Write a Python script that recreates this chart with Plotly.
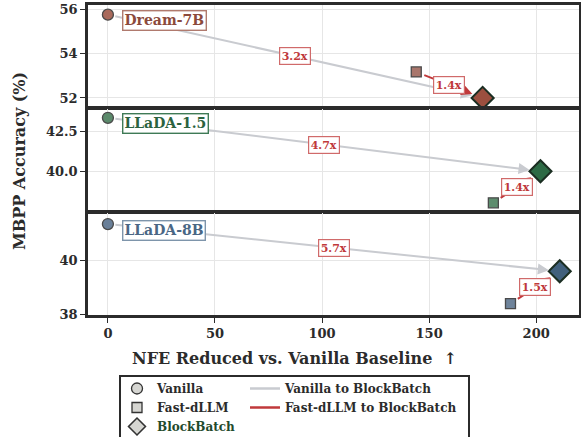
import plotly.graph_objects as go
from plotly.subplots import make_subplots

models = ["Dream-7B", "LLaDA-1.5", "LLaDA-8B"]
vanilla_nfe = [0, 0, 0]
vanilla_acc = [55.78, 43.38, 41.35]
fast_nfe = [144, 180, 188]
fast_acc = [53.18, 38.0, 38.4]
bb_nfe = [175, 202, 211]
bb_acc = [52.0, 40.0, 39.6]
speed_vs_vanilla = ["3.2x", "4.7x", "5.7x"]
speed_vs_fast = ["1.4x", "1.4x", "1.5x"]

x_ticks = [0, 50, 100, 150, 200]
y_ticks = [[52, 54, 56], [40.0, 42.5], [38, 40]]
y_ranges = [[51.6, 56.22], [37.5, 43.92], [37.98, 41.75]]
y_fmt = ["d", ".1f", "d"]

vanilla_col = ["#a96a5c", "#5b8a6b", "#6a8099"]
fast_col = ["#a9766c", "#5e8d6e", "#6f849b"]
bb_col = ["#9c4f3f", "#2d6a45", "#41607c"]
label_txt = ["#8c4a3c", "#2b6340", "#4a6785"]
label_border = ["#b07a6e", "#3f7a56", "#7e95ab"]

FONT = "DejaVu Serif"
DARK = "#2b2b2b"
GRAY_ARROW = "#c9cbd0"
RED = "#c0393b"

fig = make_subplots(rows=3, cols=1, shared_xaxes=True, vertical_spacing=0)

annotations = []
for i in range(3):
    r = i + 1
    xs = "x" if r == 1 else f"x{r}"
    ys = "y" if r == 1 else f"y{r}"
    fig.add_trace(go.Scatter(x=[vanilla_nfe[i]], y=[vanilla_acc[i]], mode="markers",
                             marker=dict(symbol="circle", size=11, color=vanilla_col[i],
                                         line=dict(color="#4a4a4a", width=1.3)),
                             showlegend=False, hoverinfo="skip"), row=r, col=1)
    fig.add_trace(go.Scatter(x=[fast_nfe[i]], y=[fast_acc[i]], mode="markers",
                             marker=dict(symbol="square", size=10, color=fast_col[i],
                                         line=dict(color="#4a4a4a", width=1.3)),
                             showlegend=False, hoverinfo="skip"), row=r, col=1)
    fig.add_trace(go.Scatter(x=[bb_nfe[i]], y=[bb_acc[i]], mode="markers",
                             marker=dict(symbol="diamond", size=17, color=bb_col[i],
                                         line=dict(color="#1b2e22", width=2)),
                             showlegend=False, hoverinfo="skip"), row=r, col=1)
    annotations.append(dict(x=bb_nfe[i], y=bb_acc[i], ax=vanilla_nfe[i], ay=vanilla_acc[i],
                            xref=xs, yref=ys, axref=xs, ayref=ys, text="", showarrow=True,
                            arrowhead=2, arrowsize=1.1, arrowwidth=2, arrowcolor=GRAY_ARROW,
                            standoff=11, startstandoff=6))
    annotations.append(dict(x=bb_nfe[i], y=bb_acc[i], ax=fast_nfe[i], ay=fast_acc[i],
                            xref=xs, yref=ys, axref=xs, ayref=ys, text="", showarrow=True,
                            arrowhead=2, arrowsize=1.1, arrowwidth=2, arrowcolor=RED,
                            standoff=11, startstandoff=7))
    annotations.append(dict(x=(vanilla_nfe[i] + bb_nfe[i]) / 2, y=(vanilla_acc[i] + bb_acc[i]) / 2,
                            xref=xs, yref=ys, text=speed_vs_vanilla[i], showarrow=False,
                            font=dict(family=FONT, size=11, color=RED, weight="bold"),
                            bgcolor="white", bordercolor="#d06a6a", borderwidth=1.2, borderpad=1.5))
    annotations.append(dict(x=(fast_nfe[i] + bb_nfe[i]) / 2, y=(fast_acc[i] + bb_acc[i]) / 2,
                            xref=xs, yref=ys, text=speed_vs_fast[i], showarrow=False,
                            font=dict(family=FONT, size=11, color=RED, weight="bold"),
                            bgcolor="white", bordercolor="#d06a6a", borderwidth=1.2, borderpad=1.5))
    annotations.append(dict(x=vanilla_nfe[i], y=vanilla_acc[i], xref=xs, yref=ys,
                            text=models[i], showarrow=False, xanchor="left", yanchor="middle",
                            xshift=14, yshift=-6,
                            font=dict(family=FONT, size=14, color=label_txt[i], weight="bold"),
                            bgcolor="white", bordercolor=label_border[i], borderwidth=1.4,
                            borderpad=1))

LG = "#d6d6d2"
fig.add_trace(go.Scatter(x=[None], y=[None], mode="markers", name="Vanilla",
                         marker=dict(symbol="circle", size=11, color=LG, line=dict(color="#333", width=1.3)),
                         legend="legend"), row=3, col=1)
fig.add_trace(go.Scatter(x=[None], y=[None], mode="markers", name="Fast-dLLM",
                         marker=dict(symbol="square", size=10, color=LG, line=dict(color="#333", width=1.3)),
                         legend="legend"), row=3, col=1)
fig.add_trace(go.Scatter(x=[None], y=[None], mode="markers",
                         name="<span style='color:#1f4a2c'>BlockBatch</span>",
                         marker=dict(symbol="diamond", size=13, color=LG, line=dict(color="#333", width=1.6)),
                         legend="legend"), row=3, col=1)
fig.add_trace(go.Scatter(x=[None], y=[None], mode="lines", name="Vanilla to BlockBatch",
                         line=dict(color=GRAY_ARROW, width=2.5), legend="legend2"), row=3, col=1)
fig.add_trace(go.Scatter(x=[None], y=[None], mode="lines", name="Fast-dLLM to BlockBatch",
                         line=dict(color=RED, width=2.5), legend="legend2"), row=3, col=1)

L, R, T, B = 88, 2, 5, 122
W, H = 581, 437
pw, ph = W - L - R, H - T - B
LW = 2.5

def px2x(px):
    return (px - L) / pw

def py2y(py):
    return (H - B - py) / ph

h = LW / 2
domains = [[py2y(108 - h), 1.0], [py2y(212 - h), py2y(108 + h)], [0.0, py2y(212 + h)]]

for i in range(3):
    r = i + 1
    fig.update_yaxes(row=r, col=1, range=y_ranges[i], tickvals=y_ticks[i], tickformat=y_fmt[i],
                     domain=domains[i], showgrid=True, gridcolor="#e6e6e6", gridwidth=1,
                     showline=True, linecolor=DARK, linewidth=LW, mirror=True,
                     ticks="outside", ticklen=5, tickwidth=1.2, tickcolor=DARK,
                     tickfont=dict(family=FONT, size=13, color=DARK, weight="bold"), zeroline=False)
    fig.update_xaxes(row=r, col=1, range=[-9.3, 220], tickvals=x_ticks, showgrid=True,
                     gridcolor="#e6e6e6", gridwidth=1, showline=True, linecolor=DARK,
                     linewidth=LW, mirror=True, zeroline=False,
                     ticks="outside" if r == 3 else "", ticklen=5, tickwidth=1.2, tickcolor=DARK,
                     showticklabels=(r == 3),
                     tickfont=dict(family=FONT, size=13, color=DARK, weight="bold"))

annotations.append(dict(x=px2x(20), y=py2y(161), xref="paper", yref="paper",
                        xanchor="center", yanchor="middle",
                        text="MBPP Accuracy (%)", textangle=-90, showarrow=False,
                        font=dict(family=FONT, size=16, color=DARK, weight="bold")))
annotations.append(dict(x=px2x(294), y=py2y(358), xref="paper", yref="paper",
                        xanchor="center", yanchor="middle",
                        text="NFE Reduced vs. Vanilla Baseline  ↑", showarrow=False,
                        font=dict(family=FONT, size=16, color=DARK, weight="bold")))

fig.update_layout(
    width=W, height=H, margin=dict(l=L, r=R, t=T, b=B, autoexpand=False),
    paper_bgcolor="white", plot_bgcolor="white",
    font=dict(family=FONT, color=DARK, weight="bold"),
    annotations=annotations,
    legend=dict(x=px2x(117), y=py2y(374), xanchor="left", yanchor="top",
                bgcolor="rgba(0,0,0,0)", borderwidth=0,
                font=dict(family=FONT, size=12, color=DARK, weight="bold"),
                tracegroupgap=0, itemsizing="trace"),
    legend2=dict(x=px2x(245), y=py2y(374), xanchor="left", yanchor="top",
                 bgcolor="rgba(0,0,0,0)", borderwidth=0,
                 font=dict(family=FONT, size=12, color=DARK, weight="bold"),
                 tracegroupgap=0),
    shapes=[dict(type="rect", xref="paper", yref="paper",
                 x0=px2x(120), x1=px2x(469), y0=py2y(376), y1=py2y(460),
                 line=dict(color=DARK, width=2), fillcolor="rgba(0,0,0,0)", layer="above")],
)

fig.write_html("out.html")
